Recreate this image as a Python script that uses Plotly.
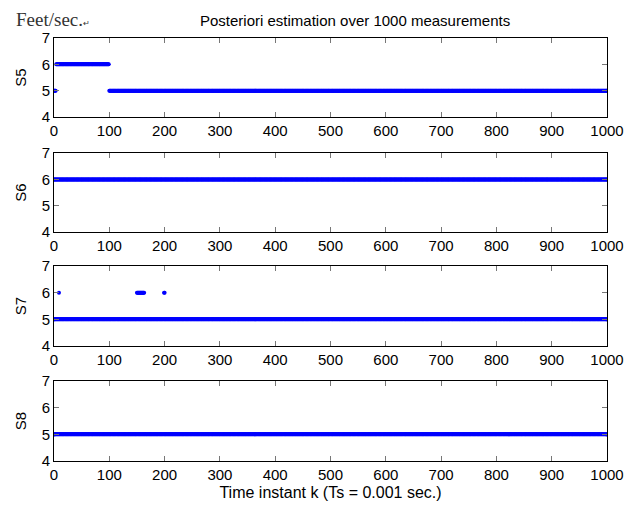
import plotly.graph_objects as go
from plotly.subplots import make_subplots

# Run-length description of the estimates: (first k, last k, value)
s5_runs = [(0, 3, 5), (4, 99, 6), (100, 1000, 5)]
s6_runs = [(0, 1000, 6)]
s7_runs = [(0, 1000, 5), (9, 9, 6), (150, 163, 6), (199, 200, 6)]
s8_runs = [(0, 1000, 5)]

series_names = ["S5", "S6", "S7", "S8"]
series_runs = [s5_runs, s6_runs, s7_runs, s8_runs]
x_ticks = [0, 100, 200, 300, 400, 500, 600, 700, 800, 900, 1000]
y_ticks = [4, 5, 6, 7]


def expand(runs):
    xs, ys = [], []
    for a, b, v in runs:
        for k in range(a, b + 1):
            xs.append(k)
            ys.append(v)
    return xs, ys


fig = make_subplots(rows=4, cols=1)
domains = [(0.813, 1.0), (0.541, 0.728), (0.272, 0.461), (0.0, 0.189)]

font = dict(family="Liberation Sans, Arial, sans-serif", size=15, color="black")

for i, (name, runs) in enumerate(zip(series_names, series_runs)):
    xs, ys = expand(runs)
    fig.add_trace(
        go.Scatter(x=xs, y=ys, mode="markers",
                   marker=dict(color="#0000ff", size=4, line=dict(width=0)),
                   showlegend=False),
        row=i + 1, col=1,
    )
    ax = "" if i == 0 else str(i + 1)
    fig.layout["yaxis" + ax].update(
        domain=domains[i], range=[4, 7], tickvals=y_ticks,
        showline=True, mirror="ticks", linecolor="black", linewidth=1,
        ticks="inside", ticklen=5, tickcolor="#777777", showgrid=False,
        zeroline=False, tickfont=font,
        title=dict(text=name, font=font, standoff=11),
    )
    fig.layout["xaxis" + ax].update(
        range=[0, 1000], tickvals=x_ticks,
        showline=True, mirror="ticks", linecolor="black", linewidth=1,
        ticks="inside", ticklen=5, tickcolor="#777777", showgrid=False,
        zeroline=False, tickfont=font,
    )

fig.layout["xaxis4"].title = dict(text="Time instant k (Ts = 0.001 sec.)",
                                  font=dict(family="Liberation Sans, Arial, sans-serif", size=16, color="black"),
                                  standoff=4)

fig.add_annotation(text="Posteriori estimation over 1000 measurements",
                   xref="paper", yref="paper", x=0.544, y=1.0, yshift=7,
                   xanchor="center", yanchor="bottom", showarrow=False,
                   font=dict(family="Liberation Sans, Arial, sans-serif", size=15, color="black"))
fig.add_annotation(text="Feet/sec.<span style='font-size:8px'>↵</span>",
                   xref="paper", yref="paper", x=-0.072, y=1.0, yshift=6,
                   xanchor="left", yanchor="bottom", showarrow=False,
                   font=dict(family="Liberation Serif, Times New Roman, serif", size=19, color="#333333"))

fig.update_layout(
    width=639, height=516,
    margin=dict(l=54, r=32, t=38, b=55),
    paper_bgcolor="white", plot_bgcolor="white",
)

fig.write_html("out.html")
